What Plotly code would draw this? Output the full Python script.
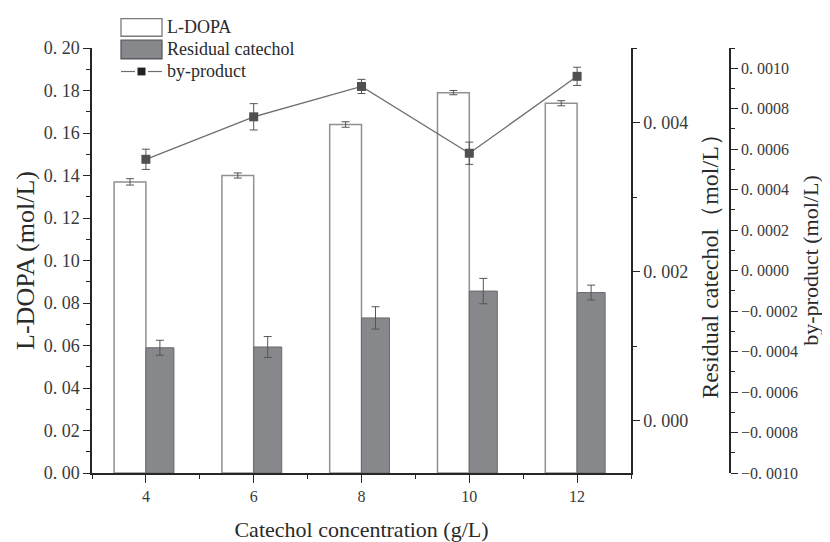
import plotly.graph_objects as go

# ---- data ----
concentration = [4, 6, 8, 10, 12]
ldopa = [0.137, 0.140, 0.164, 0.179, 0.174]
ldopa_err = [0.0015, 0.0012, 0.0013, 0.0010, 0.0012]
residual = [0.00098, 0.00099, 0.00138, 0.00174, 0.00172]
residual_err = [0.00010, 0.00014, 0.00015, 0.00017, 0.00010]
byproduct = [0.00055, 0.00076, 0.00091, 0.00058, 0.00096]
byproduct_err = [0.000050, 0.000065, 0.000035, 0.000055, 0.000045]

series_names = ["L-DOPA", "Residual catechol", "by-product"]

x_ticks = [4, 6, 8, 10, 12]
x_ticktext = ["4", "6", "8", "10", "12"]
y1_ticks = [0.0, 0.02, 0.04, 0.06, 0.08, 0.10, 0.12, 0.14, 0.16, 0.18, 0.20]
y1_ticktext = ["0. 00", "0. 02", "0. 04", "0. 06", "0. 08", "0. 10",
               "0. 12", "0. 14", "0. 16", "0. 18", "0. 20"]
y2_ticks = [0.0, 0.002, 0.004]
y2_ticktext = ["0. 000", "0. 002", "0. 004"]
y3_ticks = [-0.0010, -0.0008, -0.0006, -0.0004, -0.0002, 0.0,
            0.0002, 0.0004, 0.0006, 0.0008, 0.0010]
y3_ticktext = ["\u22120. 0010", "\u22120. 0008", "\u22120. 0006", "\u22120. 0004",
               "\u22120. 0002", "0. 0000", "0. 0002", "0. 0004", "0. 0006",
               "0. 0008", "0. 0010"]

# ---- layout constants ----
W, H = 830, 542
ML, MR, MT, MB = 84, 108, 40, 68
PW, PH = W - ML - MR, H - MT - MB
X_RANGE = [3, 13]
Y1_RANGE = [0, 0.2]
Y2_RANGE = [-0.0007, 0.005]
Y3_RANGE = [-0.001, 0.0011]

FONT = "Liberation Serif"
TXT = "#2a2a2a"
TICKTXT = "#3a3a3a"
AX = "#262626"
BAR_EDGE = "#909090"
GRAY = "#87888c"


def px(x):
    return (x - ML) / PW


def py(y):
    return (H - MB - y) / PH


fig = go.Figure()

fig.add_trace(go.Bar(
    x=concentration, y=ldopa, name=series_names[0],
    offset=-0.59, width=0.59,
    marker=dict(color="white", line=dict(color=BAR_EDGE, width=1.5)),
    error_y=dict(type="data", array=ldopa_err, color="#555555", thickness=1, width=4),
    yaxis="y", showlegend=False,
))
fig.add_trace(go.Bar(
    x=concentration, y=[v - Y2_RANGE[0] for v in residual], base=Y2_RANGE[0],
    name=series_names[1],
    offset=0.0, width=0.52,
    marker=dict(color=GRAY, line=dict(color="#6a6a6e", width=1)),
    error_y=dict(type="data", array=residual_err, color="#555555", thickness=1, width=4),
    yaxis="y2", showlegend=False,
))
fig.add_trace(go.Scatter(
    x=concentration, y=byproduct, name=series_names[2],
    mode="lines+markers",
    line=dict(color="#6e6e6e", width=1.3),
    marker=dict(symbol="square", size=9, color="#505050"),
    error_y=dict(type="data", array=byproduct_err, color="#555555", thickness=1, width=4),
    yaxis="y3", showlegend=False,
))

# ---- hand-made legend (large patches like the original) ----
shapes = [
    dict(type="rect", xref="paper", yref="paper",
         x0=px(113), x1=px(154), y0=py(28), y1=py(10),
         fillcolor="white", line=dict(color="#7a7a7a", width=1.3)),
    dict(type="rect", xref="paper", yref="paper",
         x0=px(113), x1=px(154), y0=py(51), y1=py(32),
         fillcolor=GRAY, line=dict(color="#5a5a5e", width=1.3)),
    dict(type="line", xref="paper", yref="paper",
         x0=px(113), x1=px(127), y0=py(64), y1=py(64),
         line=dict(color="#6e6e6e", width=1.2)),
    dict(type="line", xref="paper", yref="paper",
         x0=px(140), x1=px(154), y0=py(64), y1=py(64),
         line=dict(color="#6e6e6e", width=1.2)),
    dict(type="rect", xref="paper", yref="paper",
         x0=px(129.5), x1=px(137.5), y0=py(68), y1=py(60),
         fillcolor="#222222", line=dict(color="#222222", width=0)),
]
annotations = []
for name, yc in zip(series_names, [19, 41, 63]):
    annotations.append(dict(
        text=name, xref="paper", yref="paper", x=px(157), y=py(yc),
        xanchor="left", yanchor="middle", showarrow=False,
        font=dict(family=FONT, size=18, color=TXT)))

ytickfont = dict(family=FONT, size=18, color=TICKTXT)
y3tickfont = dict(family=FONT, size=16, color=TICKTXT)
xtickfont = dict(family=FONT, size=16, color=TICKTXT)


def tfont(s):
    return dict(family=FONT, size=s, color=TXT)


common = dict(ticks="outside", tickwidth=1.3, tickcolor=AX,
              showline=True, linecolor=AX, linewidth=1.5,
              showgrid=False, zeroline=False)

fig.update_layout(
    width=W, height=H,
    margin=dict(l=ML, r=MR, t=MT, b=MB),
    paper_bgcolor="white", plot_bgcolor="white",
    barmode="overlay",
    showlegend=False,
    shapes=shapes, annotations=annotations,
    xaxis=dict(
        domain=[0, (623 - ML) / PW], range=X_RANGE,
        tickvals=x_ticks, ticktext=x_ticktext, ticklen=8, tickfont=xtickfont,
        minor=dict(dtick=1, tick0=3, ticks="outside", ticklen=4, tickwidth=1.2, tickcolor=AX),
        title=dict(text="Catechol concentration (g/L)", font=tfont(22), standoff=18),
        **common,
    ),
    yaxis=dict(
        range=Y1_RANGE,
        tickvals=y1_ticks, ticktext=y1_ticktext, ticklen=7, tickfont=ytickfont,
        minor=dict(dtick=0.01, tick0=0, ticks="outside", ticklen=4, tickwidth=1.2, tickcolor=AX),
        title=dict(text="L-DOPA (mol/L)", font=tfont(26), standoff=2),
        **common,
    ),
    yaxis2=dict(
        overlaying="y", side="right", anchor="x",
        range=Y2_RANGE,
        tickvals=y2_ticks, ticktext=y2_ticktext, ticklen=7, tickfont=ytickfont,
        minor=dict(dtick=0.001, tick0=0, ticks="outside", ticklen=4, tickwidth=1.2, tickcolor=AX),
        title=dict(text="Residual catechol\uff08mol/L\uff09", font=tfont(24), standoff=14),
        **common,
    ),
    yaxis3=dict(
        overlaying="y", side="right", anchor="free", position=1.0,
        range=Y3_RANGE,
        tickvals=y3_ticks, ticktext=y3_ticktext, ticklen=7, tickfont=y3tickfont,
        minor=dict(dtick=0.0001, tick0=0, ticks="outside", ticklen=4, tickwidth=1.2, tickcolor=AX),
        title=dict(text="by-product (mol/L)", font=tfont(22), standoff=4),
        **common,
    ),
)

fig.write_html("out.html")
